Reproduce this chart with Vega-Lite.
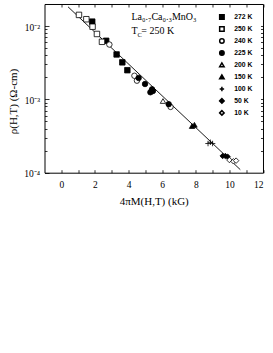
{
  "$schema": "https://vega.github.io/schema/vega-lite/v6.json",
  "width": 218.5,
  "height": 168.7,
  "autosize": "none",
  "padding": {"left": 44.5, "top": 4, "right": 10, "bottom": 180},
  "background": "white",
  "config": {
    "view": {"stroke": "black", "strokeWidth": 1},
    "axis": {"domain": false, "grid": false, "labelFont": "Liberation Serif", "titleFont": "Liberation Serif", "labelColor": "black", "titleColor": "black", "tickColor": "black", "titleFontWeight": "normal", "tickWidth": 0.8}
  },
  "datasets": {
    "fit": [{"M": 0.4, "rho": 0.0183}, {"M": 10.65, "rho": 0.00011}],
    "pts": [
      {"M": 1.84, "rho": 0.0115, "T": "272 K"},
      {"M": 2.67, "rho": 0.0063, "T": "272 K"},
      {"M": 3.29, "rho": 0.0041, "T": "272 K"},
      {"M": 3.63, "rho": 0.0032, "T": "272 K"},
      {"M": 3.93, "rho": 0.0025, "T": "272 K"},
      {"M": 1.05, "rho": 0.0142, "T": "250 K"},
      {"M": 1.49, "rho": 0.0124, "T": "250 K"},
      {"M": 1.86, "rho": 0.0098, "T": "250 K"},
      {"M": 2.12, "rho": 0.0078, "T": "250 K"},
      {"M": 2.42, "rho": 0.0061, "T": "250 K"},
      {"M": 2.86, "rho": 0.0056, "T": "240 K"},
      {"M": 4.35, "rho": 0.0021, "T": "240 K"},
      {"M": 4.5, "rho": 0.0018, "T": "240 K"},
      {"M": 6.5, "rho": 0.00079, "T": "240 K"},
      {"M": 4.6, "rho": 0.00196, "T": "225 K"},
      {"M": 4.98, "rho": 0.00162, "T": "225 K"},
      {"M": 5.3, "rho": 0.00125, "T": "225 K"},
      {"M": 5.4, "rho": 0.00137, "T": "225 K"},
      {"M": 5.45, "rho": 0.0013, "T": "225 K"},
      {"M": 6.39, "rho": 0.00086, "T": "225 K"},
      {"M": 6.05, "rho": 0.00095, "T": "200 K"},
      {"M": 7.78, "rho": 0.000433, "T": "150 K"},
      {"M": 7.92, "rho": 0.00045, "T": "150 K"},
      {"M": 8.73, "rho": 0.00025, "T": "100 K"},
      {"M": 8.87, "rho": 0.00026, "T": "100 K"},
      {"M": 9.0, "rho": 0.00025, "T": "100 K"},
      {"M": 9.6, "rho": 0.000169, "T": "50 K"},
      {"M": 9.76, "rho": 0.000169, "T": "50 K"},
      {"M": 9.9, "rho": 0.000165, "T": "50 K"},
      {"M": 10.0, "rho": 0.000149, "T": "10 K"},
      {"M": 10.24, "rho": 0.000143, "T": "10 K"},
      {"M": 10.4, "rho": 0.000146, "T": "10 K"}
    ]
  },
  "layer": [
    {
      "data": {"name": "fit"},
      "mark": {"type": "line", "color": "black", "strokeWidth": 0.9},
      "encoding": {
        "x": {"field": "M", "type": "quantitative", "scale": {"domain": [-1, 12], "nice": false, "zero": false},
          "axis": {"orient": "bottom", "values": [0,1,2,3,4,5,6,7,8,9,10,11,12], "tickSize": -3, "labelPadding": 10, "labelFontSize": 9.5,
            "labelExpr": "datum.value % 2 == 0 ? datum.label : ''", "title": "4πM(H,T) (kG)", "titleFontSize": 11, "titleY": 32.3, "titleBaseline": "alphabetic"}},
        "y": {"field": "rho", "type": "quantitative", "scale": {"type": "log", "domain": [0.0001, 0.02], "nice": false},
          "axis": {"orient": "left", "values": [0.0001, 0.001, 0.01], "tickSize": -4.5, "labelPadding": 9.5, "labelFontSize": 9.5, "labelOffset": 1,
            "labelExpr": "datum.value < 0.0005 ? '10⁻⁴' : datum.value < 0.005 ? '10⁻³' : '10⁻²'", "title": "ρ(H,T) (Ω-cm)", "titleFontSize": 11, "titleX": -26, "titleY": 97}}
      }
    },
    {
      "data": {"name": "pts"},
      "mark": {"type": "point", "filled": true, "stroke": "black", "strokeWidth": 0.8, "size": 30, "opacity": 1},
      "encoding": {
        "x": {"field": "M", "type": "quantitative", "axis": {"orient": "top", "values": [0,1,2,3,4,5,6,7,8,9,10,11,12], "tickSize": -3, "labels": false, "title": null}},
        "y": {"field": "rho", "type": "quantitative", "axis": {"orient": "right", "values": [0.0002,0.0003,0.0004,0.0005,0.0006,0.0007,0.0008,0.0009,0.001,0.002,0.003,0.004,0.005,0.006,0.007,0.008,0.009,0.01], "tickSize": -2.5, "labels": false, "title": null}},
        "shape": {"field": "T", "type": "nominal",
          "scale": {"domain": ["272 K","250 K","240 K","225 K","200 K","150 K","100 K","50 K","10 K"],
            "range": ["square","square","circle","circle","triangle-up","triangle-up","M-1,0H1M0,-1V1","diamond","diamond"]},
          "legend": {"title": null, "orient": "none", "legendX": 174, "legendY": 9.5, "padding": 0, "rowPadding": 1, "symbolSize": 20, "labelFont": "Liberation Sans", "labelFontSize": 6.8, "labelFontWeight": "bold", "labelColor": "black", "labelOffset": 9, "labelExpr": "length(datum.label) < 5 ? '\u2007' + datum.label : datum.label",
            "encode": {"symbols": {"stroke": {"value": "black"}, "strokeWidth": {"value": 0.8}, "opacity": {"value": 1}}}}},
        "fill": {"field": "T", "type": "nominal",
          "scale": {"domain": ["272 K","250 K","240 K","225 K","200 K","150 K","100 K","50 K","10 K"],
            "range": ["black","white","white","black","white","black","black","black","white"]},
          "legend": {"title": null, "orient": "none", "legendX": 174, "legendY": 9.5, "padding": 0, "rowPadding": 1, "symbolSize": 20, "labelFont": "Liberation Sans", "labelFontSize": 6.8, "labelFontWeight": "bold", "labelColor": "black", "labelOffset": 9, "labelExpr": "length(datum.label) < 5 ? '\u2007' + datum.label : datum.label",
            "encode": {"symbols": {"stroke": {"value": "black"}, "strokeWidth": {"value": 0.8}, "opacity": {"value": 1}}}}}
      }
    },
    {
      "data": {"values": [{"x": 4.17, "y": 0.01208, "t": "La₀.₇Ca₀.₃MnO₃"}, {"x": 4.17, "y": 0.0077, "t": "T"}, {"x": 4.76, "y": 0.0077, "t": "= 250 K"}]},
      "mark": {"type": "text", "font": "Liberation Serif", "fontSize": 10, "align": "left", "baseline": "alphabetic", "color": "black"},
      "encoding": {
        "x": {"field": "x", "type": "quantitative", "axis": null},
        "y": {"field": "y", "type": "quantitative", "axis": {"orient": "left", "values": [0.0002,0.0003,0.0004,0.0005,0.0006,0.0007,0.0008,0.0009,0.002,0.003,0.004,0.005,0.006,0.007,0.008,0.009], "tickSize": -2.5, "labels": false, "title": null}},
        "text": {"field": "t"}
      }
    },
    {
      "data": {"values": [{"x": 4.53, "y": 0.0077, "t": "C"}]},
      "mark": {"type": "text", "font": "Liberation Serif", "fontSize": 6.5, "align": "left", "baseline": "alphabetic", "dy": 2.5, "color": "black"},
      "encoding": {
        "x": {"field": "x", "type": "quantitative", "axis": null},
        "y": {"field": "y", "type": "quantitative", "axis": null},
        "text": {"field": "t"}
      }
    }
  ],
  "resolve": {"axis": {"x": "independent", "y": "independent"}}
}
